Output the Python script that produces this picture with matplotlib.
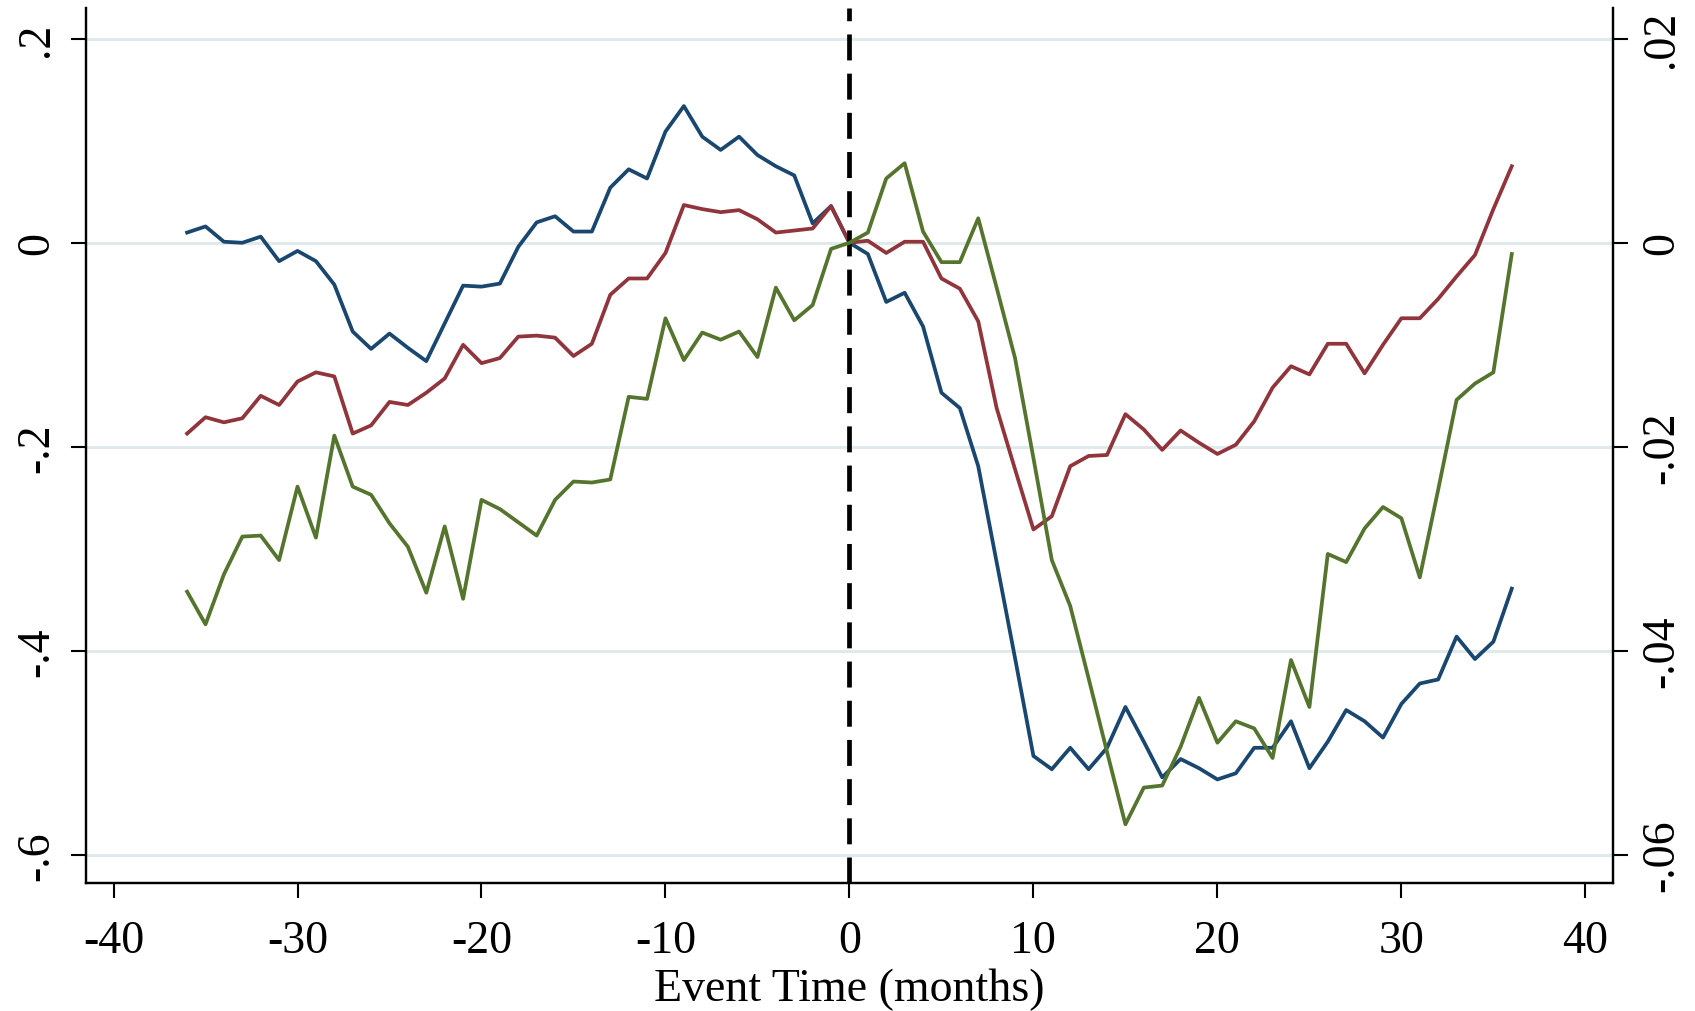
import numpy as np
import matplotlib
matplotlib.use("Agg")
import matplotlib.pyplot as plt

# meses relativos ao evento
meses = list(range(-36, 37))

# serie azul (eixo esquerdo)
azul = [0.010, 0.016, 0.001, 0.000, 0.006, -0.018, -0.008, -0.018, -0.041, -0.087,
        -0.104, -0.089, -0.103, -0.116, -0.079, -0.042, -0.043, -0.040, -0.004, 0.020,
        0.026, 0.011, 0.011, 0.054, 0.072, 0.063, 0.109, 0.134, 0.104, 0.091,
        0.104, 0.086, 0.075, 0.066, 0.019, 0.036, 0.000,
        -0.011, -0.058, -0.049, -0.082, -0.147, -0.162, -0.219, -0.313, -0.407, -0.503,
        -0.516, -0.495, -0.516, -0.495, -0.455, -0.489, -0.524, -0.506, -0.515, -0.526,
        -0.520, -0.495, -0.495, -0.469, -0.515, -0.489, -0.458, -0.469, -0.485, -0.452,
        -0.432, -0.428, -0.386, -0.408, -0.391, -0.339]

# serie vermelha (eixo esquerdo)
vermelho = [-0.187, -0.171, -0.176, -0.172, -0.150, -0.159, -0.136, -0.127, -0.131, -0.187,
            -0.179, -0.156, -0.159, -0.147, -0.133, -0.100, -0.118, -0.113, -0.092, -0.091,
            -0.093, -0.111, -0.099, -0.051, -0.035, -0.035, -0.010, 0.037, 0.033, 0.030,
            0.032, 0.023, 0.010, 0.012, 0.014, 0.036, 0.000,
            0.002, -0.010, 0.001, 0.001, -0.035, -0.045, -0.077, -0.162, -0.222, -0.281,
            -0.268, -0.219, -0.209, -0.208, -0.168, -0.183, -0.203, -0.184, -0.196, -0.207,
            -0.198, -0.175, -0.142, -0.121, -0.129, -0.099, -0.099, -0.128, -0.100, -0.074,
            -0.074, -0.055, -0.033, -0.012, 0.033, 0.075]

# serie verde (eixo direito)
verde = [-0.0342, -0.0374, -0.0325, -0.0288, -0.0287, -0.0311, -0.0239, -0.0289, -0.0189, -0.0239,
         -0.0247, -0.0275, -0.0298, -0.0343, -0.0278, -0.0349, -0.0252, -0.0261, -0.0274, -0.0287,
         -0.0252, -0.0234, -0.0235, -0.0232, -0.0151, -0.0153, -0.0074, -0.0115, -0.0088, -0.0095,
         -0.0087, -0.0112, -0.0044, -0.0076, -0.0061, -0.0006, 0.0000,
         0.0010, 0.0063, 0.0078, 0.0011, -0.0019, -0.0019, 0.0024, -0.0044, -0.0113, -0.0211,
         -0.0311, -0.0356, -0.0427, -0.0499, -0.0570, -0.0534, -0.0532, -0.0494, -0.0446, -0.0490,
         -0.0469, -0.0476, -0.0505, -0.0409, -0.0455, -0.0305, -0.0313, -0.0280, -0.0259, -0.0270,
         -0.0328, -0.0242, -0.0154, -0.0138, -0.0127, -0.0011]

xticks = [-40, -30, -20, -10, 0, 10, 20, 30, 40]
yticks_esq = [0.2, 0, -0.2, -0.4, -0.6]
ylabels_esq = [".2", "0", "-.2", "-.4", "-.6"]
yticks_dir = [0.02, 0, -0.02, -0.04, -0.06]
ylabels_dir = [".02", "0", "-.02", "-.04", "-.06"]

plt.rcParams['font.family'] = ['Liberation Serif', 'DejaVu Serif']

fig = plt.figure(figsize=(16.95, 10.12), dpi=100)
ax = fig.add_axes([0.0507, 0.1265, 0.9009, 0.8645])
ax2 = ax.twinx()

ylim = (-0.6275, 0.23)
ax.set_xlim(-41.5, 41.5)
ax.set_ylim(*ylim)
ax2.set_ylim(ylim[0] / 10, ylim[1] / 10)

# grade horizontal
for yv in yticks_esq:
    ax.axhline(yv, color='#e0eaed', lw=2.2, zorder=0)

ax.plot(meses, azul, color='#1a476f', lw=2.7, zorder=3)
ax.plot(meses, vermelho, color='#90353b', lw=2.7, zorder=3)
ax2.plot(meses, verde, color='#55752f', lw=2.7, zorder=3)
ax.axvline(0, color='black', lw=3.4, dashes=(5.5, 2.8), zorder=4)

ax.set_xticks(xticks)
ax.set_xticklabels([str(v) for v in xticks])
ax.set_yticks(yticks_esq)
ax.set_yticklabels(ylabels_esq, rotation=90, va='center')
ax2.set_yticks(yticks_dir)
ax2.set_yticklabels(ylabels_dir, rotation=90, va='center')

for a in (ax, ax2):
    a.spines['top'].set_visible(False)
    for s in ('left', 'right', 'bottom'):
        a.spines[s].set_linewidth(1.6)
    a.tick_params(direction='out', length=11, width=1.5, labelsize=33, pad=9)
ax.tick_params(axis='x', pad=15)

ax.set_xlabel('Event Time (months)', fontsize=33, labelpad=4)

fig.savefig('out.png', dpi=100)
